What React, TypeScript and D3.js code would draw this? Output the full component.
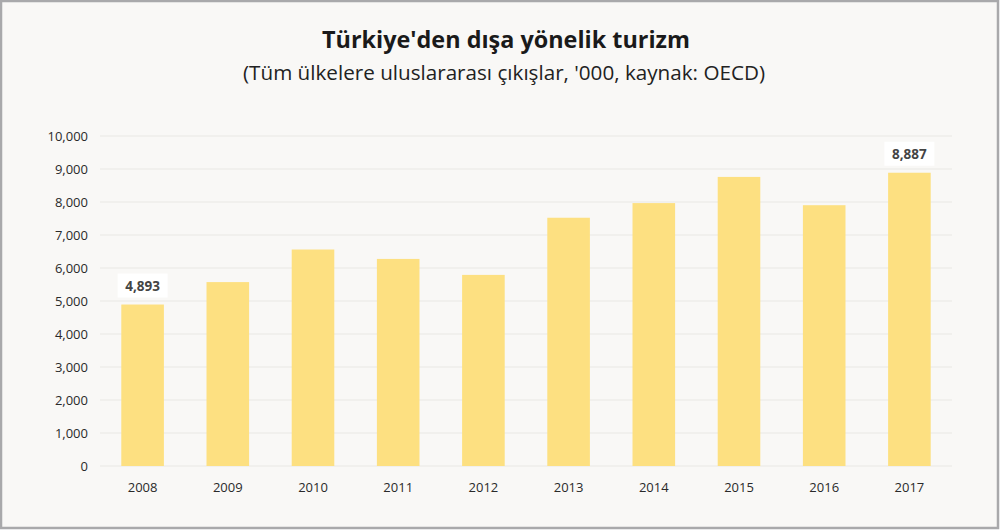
import { useEffect, useRef } from 'react';
import * as d3 from 'd3';

const years = ['2008', '2009', '2010', '2011', '2012', '2013', '2014', '2015', '2016', '2017'];
const departures = [4893, 5573, 6560, 6275, 5791, 7523, 7967, 8760, 7903, 8887];
const yTicks = [0, 1000, 2000, 3000, 4000, 5000, 6000, 7000, 8000, 9000, 10000];
const labelledYears = ['2008', '2017'];

const title = "Türkiye'den dışa yönelik turizm";
const subtitle = "(Tüm ülkelere uluslararası çıkışlar, '000, kaynak: OECD)";

const W = 1001;
const H = 530;

export default function App() {
  const svgRef = useRef<SVGSVGElement>(null);

  useEffect(() => {
    if (!svgRef.current) return;
    const svg = d3.select(svgRef.current);
    svg.selectAll('*').remove();

    const font = '"Open Sans", "DejaVu Sans", sans-serif';
    const margin = { top: 136, right: 49, bottom: 64, left: 100 };
    const innerWidth = W - margin.left - margin.right;
    const innerHeight = H - margin.top - margin.bottom;

    // background + frame
    svg.append('rect')
      .attr('x', 1).attr('y', 1)
      .attr('width', W - 4).attr('height', H - 3)
      .attr('fill', '#f9f8f6')
      .attr('stroke', '#a9a9ab')
      .attr('stroke-width', 2.5);

    // titles (condensed look via textLength)
    svg.append('text')
      .attr('x', 506).attr('y', 48)
      .attr('text-anchor', 'middle')
      .attr('font-family', font)
      .attr('font-weight', 700)
      .attr('font-size', 24)
      .attr('fill', '#1a1a1a')
      .attr('textLength', 368)
      .attr('lengthAdjust', 'spacingAndGlyphs')
      .text(title);

    svg.append('text')
      .attr('x', 504).attr('y', 80)
      .attr('text-anchor', 'middle')
      .attr('font-family', font)
      .attr('font-size', 20)
      .attr('fill', '#222')
      .attr('textLength', 522)
      .attr('lengthAdjust', 'spacingAndGlyphs')
      .text(subtitle);

    const x = d3.scaleBand()
      .domain(years)
      .range([0, innerWidth])
      .paddingInner(0.5)
      .paddingOuter(0.25);

    const y = d3.scaleLinear()
      .domain([0, 10000])
      .range([innerHeight, 0]);

    const g = svg.append('g')
      .attr('transform', `translate(${margin.left},${margin.top})`);

    // gridlines
    g.selectAll('.grid')
      .data(yTicks)
      .enter().append('line')
      .attr('x1', 0).attr('x2', innerWidth)
      .attr('y1', d => y(d)).attr('y2', d => y(d))
      .attr('stroke', '#e9e7e4')
      .attr('stroke-width', 1.2);

    // y labels
    g.selectAll('.ylab')
      .data(yTicks)
      .enter().append('text')
      .attr('x', -12)
      .attr('y', d => y(d))
      .attr('dy', '0.35em')
      .attr('text-anchor', 'end')
      .attr('font-family', font)
      .attr('font-size', 13)
      .attr('fill', '#2a2a2a')
      .text(d => d3.format(',')(d));

    // bars
    g.selectAll('.bar')
      .data(years)
      .enter().append('rect')
      .attr('x', d => x(d) || 0)
      .attr('y', (d, i) => y(departures[i]))
      .attr('width', x.bandwidth())
      .attr('height', (d, i) => innerHeight - y(departures[i]))
      .attr('fill', '#fde081');

    // x labels
    g.selectAll('.xlab')
      .data(years)
      .enter().append('text')
      .attr('x', d => (x(d) || 0) + x.bandwidth() / 2)
      .attr('y', innerHeight + 26)
      .attr('text-anchor', 'middle')
      .attr('font-family', font)
      .attr('font-size', 13)
      .attr('fill', '#2a2a2a')
      .text(d => d);

    // value labels
    const lab = g.selectAll('.vlab')
      .data(years.filter(yr => labelledYears.includes(yr)))
      .enter().append('g')
      .attr('transform', d => {
        const v = departures[years.indexOf(d)];
        return `translate(${(x(d) || 0) + x.bandwidth() / 2},${y(v) - 7})`;
      });

    lab.append('rect')
      .attr('x', -25).attr('y', -24)
      .attr('width', 50).attr('height', 24)
      .attr('fill', '#ffffff');

    lab.append('text')
      .attr('x', 0).attr('y', -7)
      .attr('text-anchor', 'middle')
      .attr('font-family', font)
      .attr('font-weight', 700)
      .attr('font-size', 13.5)
      .attr('fill', '#444')
      .text(d => d3.format(',')(departures[years.indexOf(d)]));
  }, []);

  return (
    <div style={{ position: 'absolute', left: 0, top: 0 }}>
      <svg ref={svgRef} width={W} height={H} style={{ display: 'block' }} />
    </div>
  );
}
